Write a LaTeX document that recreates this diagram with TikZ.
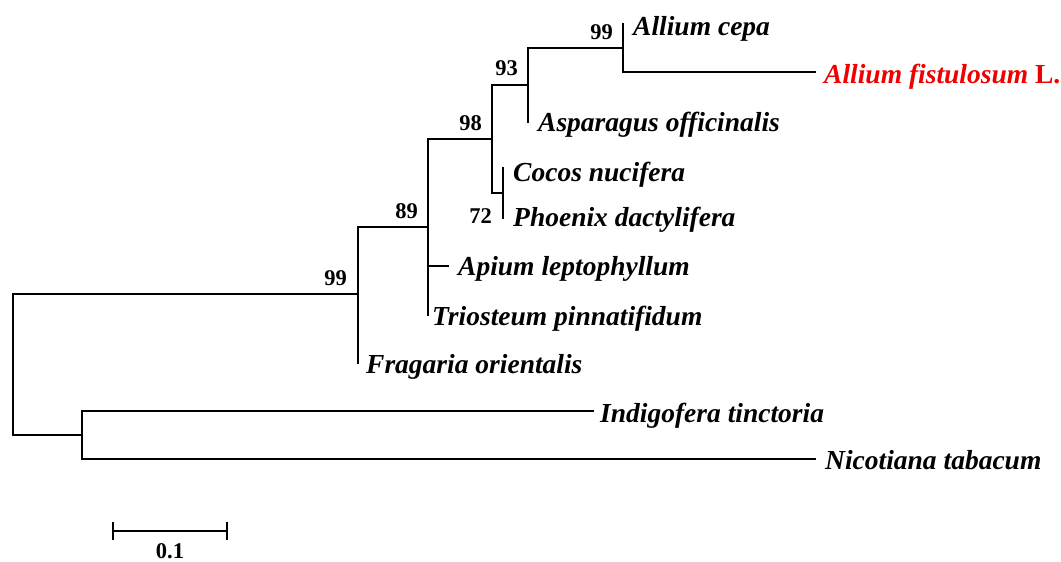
\documentclass[tikz,border=0pt]{standalone}
\usepackage{fontspec}
\setmainfont{Liberation Serif}
\definecolor{hilite}{RGB}{240,0,0}
\begin{document}
\begin{tikzpicture}[x=1pt,y=-1pt,
  branch/.style={line width=1.3pt, line cap=rect},
  taxon/.style={anchor=base west, inner sep=0pt, font=\fontsize{27.5}{30}\selectfont\bfseries\itshape},
  boot/.style={anchor=base east, inner sep=0pt, font=\fontsize{22.5}{26}\selectfont\bfseries}]
\useasboundingbox (0,0) rectangle (1061,562);
\clip (0,0) rectangle (1061,562);

% internal nodes
\coordinate (root) at (13,364.5);
\coordinate (n99)  at (358,294);
\coordinate (n89)  at (428,227);
\coordinate (n98)  at (492,139);
\coordinate (n93)  at (528,85);
\coordinate (nAl)  at (623,48);
\coordinate (nCP)  at (503,193);
\coordinate (nOut) at (82,435);

% leaf tips
\coordinate (cepa) at (623,24);
\coordinate (fist) at (815,72);
\coordinate (aspa) at (528,122);
\coordinate (coco) at (503,168);
\coordinate (phoe) at (503,218);
\coordinate (apiu) at (448,266);
\coordinate (trio) at (428,315);
\coordinate (frag) at (358,363);
\coordinate (indi) at (593,411);
\coordinate (nico) at (815,459);

% branches
\draw[branch] (root) |- (n99);
\draw[branch] (root) |- (nOut);
\draw[branch] (n99) |- (n89);
\draw[branch] (n99) |- (frag);
\draw[branch] (n89) |- (n98);
\draw[branch] (n89) |- (apiu);
\draw[branch] (n89) |- (trio);
\draw[branch] (n98) |- (n93);
\draw[branch] (n98) |- (nCP);
\draw[branch] (n93) |- (nAl);
\draw[branch] (n93) |- (aspa);
\draw[branch] (nAl) |- (cepa);
\draw[branch] (nAl) |- (fist);
\draw[branch] (nCP) |- (coco);
\draw[branch] (nCP) |- (phoe);
\draw[branch] (nOut) |- (indi);
\draw[branch] (nOut) |- (nico);

% taxon names
\node[taxon] (tcepa) at ([xshift=10pt,yshift=-11pt]cepa) {Allium cepa};
\node[taxon,text=hilite] (tfist) at ([xshift=9pt,yshift=-11pt]fist) {Allium fistulosum \upshape L.};
\node[taxon] (taspa) at ([xshift=10pt,yshift=-9pt]aspa) {Asparagus officinalis};
\node[taxon] (tcoco) at ([xshift=10pt,yshift=-13.5pt]coco) {Cocos nucifera};
\node[taxon] (tphoe) at ([xshift=10pt,yshift=-8.5pt]phoe) {Phoenix dactylifera};
\node[taxon] (tapiu) at ([xshift=10pt,yshift=-9pt]apiu) {Apium leptophyllum};
\node[taxon] (ttrio) at ([xshift=4pt,yshift=-10pt]trio) {Triosteum pinnatifidum};
\node[taxon] (tfrag) at ([xshift=8pt,yshift=-10pt]frag) {Fragaria orientalis};
\node[taxon] (tindi) at ([xshift=7pt,yshift=-11pt]indi) {Indigofera tinctoria};
\node[taxon] (tnico) at ([xshift=10pt,yshift=-10.5pt]nico) {Nicotiana tabacum};

% bootstrap support values
\node[boot] (bAl)  at ([xshift=-10pt,yshift=9pt]nAl)  {99};
\node[boot] (b93)  at ([xshift=-10pt,yshift=10pt]n93) {93};
\node[boot] (b98)  at ([xshift=-10pt,yshift=9pt]n98)  {98};
\node[boot] (b89)  at ([xshift=-10pt,yshift=9pt]n89)  {89};
\node[boot] (b99)  at ([xshift=-11pt,yshift=9pt]n99)  {99};
\node[boot] (bCP)  at ([xshift=-11pt,yshift=-5pt]phoe) {72};

% scale bar
\coordinate (sbL) at (113,531);
\coordinate (sbR) at (227,531);
\draw[branch,line cap=butt] (sbL) -- (sbR);
\draw[branch,line cap=butt] ([yshift=-9pt]sbL) -- ([yshift=9pt]sbL);
\draw[branch,line cap=butt] ([yshift=-9pt]sbR) -- ([yshift=9pt]sbR);
\node[anchor=base, inner sep=0pt, font=\fontsize{22.5}{26}\selectfont\bfseries] (sblab) at (170,558) {0.1};
\end{tikzpicture}
\end{document}
